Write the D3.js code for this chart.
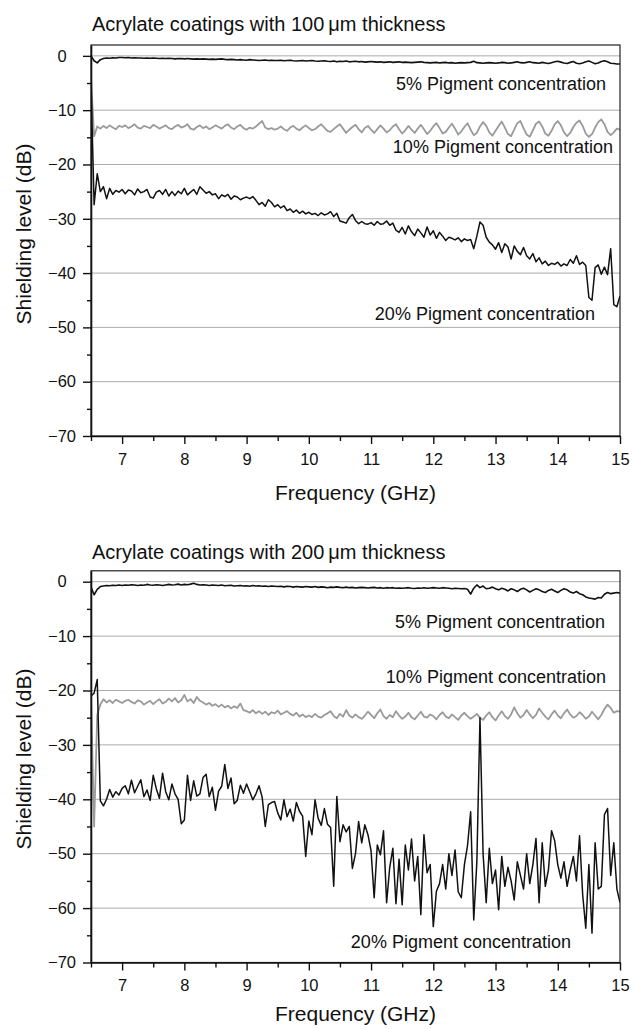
<!DOCTYPE html>
<html><head><meta charset="utf-8">
<script src="https://cdn.jsdelivr.net/npm/d3@7"></script>
<style>body{margin:0;background:#fff} text{font-family:"Liberation Sans",Arial,Helvetica,sans-serif;fill:#111}</style>
</head><body><svg id="c" width="632" height="1029"></svg>
<script>
// ---------- data ----------
const freqStart = 6.5, freqStep = 0.05;   // GHz sampling of the measured curves
const xTicks = [7, 8, 9, 10, 11, 12, 13, 14, 15];
const xMinorTicks = [6.5, 7.5, 8.5, 9.5, 10.5, 11.5, 12.5, 13.5, 14.5];
const yTicks = [0, -10, -20, -30, -40, -50, -60, -70];
const yMinorTicks = [-5, -15, -25, -35, -45, -55, -65];
const gridValues = [0, -10, -20, -30, -40, -50, -60];
const seriesLabels = ["5% Pigment concentration", "10% Pigment concentration", "20% Pigment concentration"];
const panelTitles = ["Acrylate coatings with 100\u2009\u03bcm thickness", "Acrylate coatings with 200\u2009\u03bcm thickness"];
const xTitle = "Frequency (GHz)";
const yTitle = "Shielding level (dB)";

// 100 um panel
const top5 = [
 0,-0.9,-1.3,-0.7,-0.5,-0.4,-0.45,-0.35,-0.4,-0.3,
 -0.3,-0.35,-0.3,-0.4,-0.35,-0.4,-0.4,-0.45,-0.4,-0.45,
 -0.4,-0.45,-0.5,-0.45,-0.5,-0.45,-0.5,-0.55,-0.5,-0.5,
 -0.55,-0.5,-0.55,-0.6,-0.55,-0.6,-0.55,-0.6,-0.65,-0.6,
 -0.65,-0.6,-0.55,-0.65,-0.7,-0.65,-0.7,-0.75,-0.7,-0.75,
 -0.8,-0.7,-0.75,-0.8,-0.85,-0.8,-0.75,-0.85,-0.8,-0.85,
 -0.85,-0.8,-0.9,-0.85,-0.8,-0.9,-0.95,-0.9,-0.85,-0.95,
 -0.9,-0.85,-0.95,-1.0,-0.95,-0.9,-1.0,-1.05,-0.95,-1.1,
 -1.0,-1.05,-0.95,-1.1,-1.05,-1.0,-1.1,-1.05,-1.15,-1.1,
 -1.05,-1.1,-1.15,-1.1,-1.2,-1.15,-1.1,-1.2,-1.15,-1.1,
 -1.2,-1.15,-1.2,-1.25,-1.2,-1.15,-1.1,-1.2,-1.25,-1.3,
 -1.25,-1.2,-1.3,-1.25,-1.2,-1.3,-1.25,-1.35,-1.3,-1.25,
 -1.3,-1.25,-1.2,-1.0,-1.25,-1.3,-1.35,-1.3,-1.25,-1.3,
 -1.35,-1.3,-1.2,-1.25,-1.35,-1.3,-1.2,-1.1,-1.25,-1.3,
 -1.2,-1.1,-1.25,-1.3,-1.35,-1.2,-1.3,-1.4,-1.25,-1.1,
 -1.0,-1.15,-1.3,-1.4,-1.2,-1.05,-1.35,-1.45,-1.3,-1.1,
 -0.95,-1.2,-1.45,-1.3,-1.05,-0.9,-1.1,-1.35,-1.4,-1.5,
 -1.5];
const top10 = [
 -4,-14.8,-13,-13.4,-12.9,-13.3,-12.8,-13.2,-13.5,-12.9,
 -13.1,-12.8,-13.3,-13.0,-12.6,-13.2,-13.4,-12.9,-13.1,-13.3,
 -12.7,-13.0,-13.4,-13.1,-12.8,-13.3,-13.5,-13.0,-12.7,-13.2,
 -13.0,-12.6,-13.4,-13.6,-13.1,-12.8,-13.3,-13.0,-13.5,-13.2,
 -12.8,-13.1,-13.4,-12.9,-12.6,-13.2,-13.5,-13.0,-12.7,-13.3,
 -13.6,-13.2,-13.4,-13.0,-12.5,-12.0,-13.2,-13.5,-13.3,-13.6,
 -13.4,-13.0,-13.5,-13.8,-13.2,-12.9,-13.4,-13.7,-13.2,-12.8,
 -13.3,-13.7,-13.5,-13.0,-12.6,-13.2,-13.8,-14.0,-13.5,-13.0,
 -12.6,-13.4,-14.2,-13.6,-13.1,-12.7,-13.5,-14.1,-13.3,-12.9,
 -13.6,-14.2,-13.5,-12.8,-13.4,-14.1,-13.7,-13.0,-12.6,-13.5,
 -14.3,-13.7,-12.9,-13.6,-14.2,-13.4,-12.7,-13.5,-14.4,-13.8,
 -13.0,-12.4,-13.3,-14.3,-14.0,-13.2,-12.5,-13.4,-14.5,-13.9,
 -13.1,-12.4,-13.6,-14.6,-14.2,-13.0,-12.2,-12.9,-14.1,-14.7,
 -13.8,-12.9,-12.1,-13.2,-14.4,-14.8,-13.6,-12.4,-12.0,-13.3,
 -14.5,-14.9,-13.7,-12.5,-12.1,-13.0,-14.3,-14.7,-13.8,-12.6,
 -12.0,-12.8,-14.1,-14.8,-14.2,-13.1,-12.3,-11.9,-12.9,-14.3,
 -14.9,-14.4,-13.2,-12.2,-11.7,-12.6,-14.0,-14.6,-14.1,-13.4,
 -13.6];
const top20 = [
 -5,-27.4,-21.7,-25.0,-24.1,-26.3,-24.4,-25.5,-24.8,-25.1,
 -24.6,-25.4,-24.7,-24.9,-25.6,-24.5,-25.2,-25.0,-24.6,-26.0,
 -26.2,-25.1,-24.8,-25.5,-24.6,-25.8,-25.0,-25.7,-24.9,-25.4,
 -24.4,-25.6,-25.1,-24.6,-25.5,-24.1,-24.7,-25.3,-25.0,-25.6,
 -25.4,-26.3,-25.6,-25.9,-25.5,-26.4,-25.8,-26.0,-26.5,-26.2,
 -26.0,-26.3,-25.9,-26.6,-27.4,-27.0,-27.7,-26.5,-27.0,-27.8,
 -27.4,-28.0,-27.6,-28.5,-28.2,-28.8,-28.4,-29.0,-28.6,-29.1,
 -28.8,-29.2,-29.0,-29.4,-28.9,-29.3,-29.1,-28.7,-29.6,-29.0,
 -30.4,-30.6,-30.8,-29.8,-29.2,-30.3,-30.9,-30.5,-30.9,-31.0,
 -30.7,-31.2,-30.5,-31.0,-30.9,-30.4,-31.2,-30.8,-32.1,-32.5,
 -31.6,-32.8,-31.3,-32.4,-33.1,-31.9,-32.6,-33.4,-31.5,-33.0,
 -32.2,-33.6,-32.5,-33.2,-34.0,-33.4,-33.6,-33.9,-33.5,-34.2,
 -33.7,-34.0,-33.8,-35.5,-33.2,-30.6,-31.2,-33.4,-34.3,-34.8,
 -35.6,-34.4,-36.2,-34.6,-35.2,-37.4,-35.0,-36.0,-36.6,-35.3,
 -36.8,-37.4,-36.4,-37.9,-37.2,-38.3,-37.8,-38.6,-38.2,-38.4,
 -38.0,-38.7,-38.3,-38.6,-37.5,-38.2,-36.8,-38.4,-38.0,-38.6,
 -44.5,-45.0,-39.0,-38.5,-40.2,-38.9,-40.3,-35.5,-45.8,-46.2,
 -44.2];

// 200 um panel
const bot5 = [
 -1.0,-2.4,-1.4,-0.9,-0.8,-0.7,-0.75,-0.65,-0.7,-0.6,
 -0.7,-0.6,-0.65,-0.55,-0.6,-0.7,-0.6,-0.65,-0.5,-0.6,
 -0.65,-0.55,-0.6,-0.7,-0.6,-0.5,-0.6,-0.55,-0.45,-0.6,
 -0.5,-0.55,-0.45,-0.3,-0.5,-0.6,-0.55,-0.6,-0.7,-0.6,
 -0.65,-0.7,-0.6,-0.75,-0.7,-0.65,-0.8,-0.75,-0.7,-0.8,
 -0.75,-0.85,-0.7,-0.8,-0.75,-0.85,-0.8,-0.9,-0.8,-0.85,
 -0.9,-0.85,-0.95,-0.85,-0.9,-1.0,-0.9,-0.95,-1.0,-0.9,
 -0.95,-1.0,-0.9,-1.05,-0.95,-1.0,-1.1,-1.0,-1.05,-0.95,
 -1.05,-1.1,-1.0,-1.1,-1.05,-1.15,-1.1,-1.05,-1.1,-1.15,
 -1.1,-1.05,-1.15,-1.1,-1.2,-1.1,-1.15,-1.1,-1.2,-1.15,
 -1.2,-1.15,-1.1,-1.2,-1.25,-1.15,-1.2,-1.1,-1.2,-1.15,
 -1.1,-1.15,-1.2,-1.1,-1.15,-1.2,-1.3,-1.2,-1.25,-1.3,
 -1.25,-1.4,-2.3,-1.2,-0.6,-1.1,-0.8,-1.3,-1.2,-1.0,
 -1.3,-1.5,-1.2,-1.4,-1.7,-1.3,-1.5,-1.8,-1.4,-1.2,
 -1.5,-1.9,-1.6,-1.3,-1.5,-1.8,-2.0,-1.6,-1.4,-1.7,
 -2.0,-1.6,-1.3,-1.5,-1.9,-2.1,-1.8,-2.2,-2.4,-2.8,
 -3.0,-3.1,-3.2,-2.9,-3.0,-2.3,-2.0,-2.2,-2.1,-2.0,
 -2.1];
const bot10 = [
 -21,-45,-24.5,-22.6,-21.6,-22.2,-21.8,-22.3,-21.7,-22.0,
 -22.3,-21.9,-21.7,-22.1,-22.4,-21.8,-22.0,-22.6,-22.2,-21.9,
 -22.5,-22.0,-21.6,-22.4,-22.1,-21.5,-22.0,-21.4,-22.2,-21.8,
 -20.8,-22.0,-21.6,-22.3,-21.2,-21.9,-22.2,-22.6,-22.3,-22.8,
 -22.5,-23.0,-22.6,-23.1,-22.8,-23.3,-22.9,-23.2,-22.4,-23.6,
 -23.8,-24.1,-23.6,-24.2,-23.8,-24.3,-23.9,-24.5,-24.0,-24.2,
 -23.7,-24.4,-24.1,-23.8,-24.3,-24.6,-24.1,-24.8,-24.4,-24.9,
 -24.6,-24.9,-24.3,-24.8,-25.0,-24.5,-24.2,-23.8,-24.7,-25.1,
 -24.3,-24.8,-23.6,-24.6,-25.0,-24.4,-24.9,-25.2,-24.6,-23.9,
 -24.5,-25.1,-24.2,-23.5,-24.7,-25.2,-24.5,-24.9,-23.8,-24.6,
 -25.2,-24.8,-24.1,-24.9,-25.3,-24.6,-23.9,-24.8,-25.0,-24.4,
 -24.7,-25.3,-24.5,-24.0,-24.8,-25.1,-24.4,-24.9,-25.4,-24.6,
 -24.1,-24.7,-25.2,-24.8,-24.3,-25.0,-25.4,-24.6,-24.0,-24.9,
 -25.5,-24.6,-23.8,-24.7,-25.2,-24.4,-23.1,-24.2,-25.0,-24.5,
 -23.6,-24.4,-25.1,-24.5,-23.3,-24.1,-24.8,-25.3,-24.4,-23.7,
 -24.6,-25.1,-24.2,-23.5,-24.4,-25.0,-24.7,-24.0,-24.5,-25.2,
 -24.8,-23.9,-24.6,-25.3,-24.5,-23.4,-22.6,-23.2,-24.1,-23.8,
 -23.9];
const bot20 = [
 -21,-20.5,-18,-40.3,-41.2,-40.0,-38.2,-39.6,-38.6,-39.2,
 -38.0,-37.5,-39.0,-36.5,-38.8,-37.6,-36.4,-39.5,-38.3,-40.2,
 -35.6,-38.1,-39.8,-35.2,-38.6,-40.1,-37.2,-39.0,-40.0,-44.5,
 -43.8,-35.6,-40.2,-36.6,-39.4,-39.0,-36.0,-35.4,-39.5,-37.8,
 -42.0,-38.5,-37.6,-33.6,-38.0,-36.1,-40.8,-40.2,-37.4,-38.9,
 -37.2,-38.6,-40.1,-39.0,-37.5,-39.6,-45.0,-41.0,-40.6,-40.4,
 -42.5,-43.8,-40.1,-43.2,-41.8,-44.0,-40.6,-42.2,-43.1,-50.5,
 -44.0,-46.5,-40.1,-43.5,-44.8,-41.7,-44.6,-45.2,-56.0,-39.5,
 -47.8,-44.7,-46.0,-45.0,-52.7,-50.0,-44.1,-48.0,-44.7,-46.5,
 -49.5,-58.1,-48.4,-50.2,-45.8,-59.0,-52.5,-49.0,-59.2,-51.0,
 -59.4,-48.4,-53.0,-47.3,-55.0,-50.5,-61.2,-46.5,-53.5,-52.0,
 -63.4,-56.9,-55.5,-52.0,-56.5,-50.0,-54.0,-49.3,-57.0,-58.1,
 -52.0,-48.5,-42.3,-62.2,-51.5,-25.0,-50.0,-59.0,-49.0,-55.5,
 -53.0,-60.3,-50.5,-56.0,-52.5,-55.0,-58.5,-51.5,-54.0,-56.5,
 -50.0,-55.5,-52.0,-47.2,-59.0,-48.0,-56.0,-53.0,-45.8,-47.6,
 -52.0,-54.5,-51.5,-56.0,-53.0,-50.5,-55.0,-46.7,-57.5,-63.7,
 -52.0,-64.6,-48.0,-56.5,-56.0,-42.8,-41.7,-54.0,-48.0,-56.5,
 -59.0];

// ---------- layout ----------
const svg = d3.select("#c");
const panels = [
  { title: panelTitles[0], series: [top5, top10, top20], bottom: 436, top: 45, titleY: 31,
    labels: [{x: 606, y: 89.5}, {x: 613, y: 153}, {x: 595, y: 319.5}], yTitleY: 234, xTitleY: 500 },
  { title: panelTitles[1], series: [bot5, bot10, bot20], bottom: 962.5, top: 570.8, titleY: 559,
    labels: [{x: 605, y: 628}, {x: 606, y: 683}, {x: 571, y: 948}], yTitleY: 759, xTitleY: 1021 }
];
const colors = ["#111", "#9a9a9a", "#111"];
const widths = [1.6, 1.8, 1.5];
const L = 91, R = 620;
const x = d3.scaleLinear().domain([6.5, 15]).range([L, R]);

panels.forEach((p, pi) => {
  const y = d3.scaleLinear().domain([-70, 2]).range([p.bottom, p.top]);
  const g = svg.append("g");
  // grid
  g.selectAll("line.grid").data(gridValues).enter().append("line")
    .attr("x1", L).attr("x2", R).attr("y1", d => y(d)).attr("y2", d => y(d))
    .attr("stroke", "#ababab").attr("stroke-width", 1);
  // clip
  const cid = "clip" + pi;
  svg.append("clipPath").attr("id", cid).append("rect")
    .attr("x", L).attr("y", p.top).attr("width", R - L).attr("height", p.bottom - p.top);
  const line = d3.line().x((d, i) => x(freqStart + i * freqStep)).y(d => y(d));
  p.series.forEach((s, si) => {
    g.append("path").datum(s).attr("d", line).attr("fill", "none")
      .attr("stroke", colors[si]).attr("stroke-width", widths[si])
      .attr("stroke-linejoin", "round").attr("clip-path", `url(#${cid})`);
  });
  // frame
  g.append("rect").attr("x", L).attr("y", p.top).attr("width", R - L).attr("height", p.bottom - p.top)
    .attr("fill", "none").attr("stroke", "#222").attr("stroke-width", 1.2);
  // x axis
  const xa = g.append("g").attr("transform", `translate(0,${p.bottom})`)
    .call(d3.axisBottom(x).tickValues(xTicks).tickSize(8).tickSizeOuter(0).tickPadding(9).tickFormat(d3.format("d")));
  xa.select(".domain").attr("stroke", "#111").attr("stroke-width", 1.6);
  xa.selectAll(".tick line").attr("stroke", "#111").attr("stroke-width", 1.4);
  xa.selectAll("text").attr("font-size", 16.5).attr("fill", "#111")
    .style("font-family", '"Liberation Sans",Arial,sans-serif');
  g.append("g").attr("transform", `translate(0,${p.bottom})`)
    .call(d3.axisBottom(x).tickValues(xMinorTicks).tickSize(5).tickFormat(""))
    .call(a => a.select(".domain").remove())
    .selectAll("line").attr("stroke", "#111").attr("stroke-width", 1.4);
  // y axis
  const ya = g.append("g").attr("transform", `translate(${L},0)`)
    .call(d3.axisLeft(y).tickValues(yTicks).tickSize(8).tickSizeOuter(0).tickPadding(6).tickFormat(d3.format("d")));
  ya.select(".domain").attr("stroke", "#111").attr("stroke-width", 1.6);
  ya.selectAll(".tick line").attr("stroke", "#111").attr("stroke-width", 1.4);
  ya.selectAll("text").attr("font-size", 16.5).attr("fill", "#111").attr("text-anchor", "middle").attr("x", -29)
    .style("font-family", '"Liberation Sans",Arial,sans-serif');
  g.append("g").attr("transform", `translate(${L},0)`)
    .call(d3.axisLeft(y).tickValues(yMinorTicks).tickSize(4).tickFormat(""))
    .call(a => a.select(".domain").remove())
    .selectAll("line").attr("stroke", "#111").attr("stroke-width", 1.4);
  // titles
  g.append("text").attr("x", L + 1).attr("y", p.titleY).attr("font-size", 20).text(p.title);
  g.append("text").attr("x", (L + R) / 2).attr("y", p.xTitleY).attr("text-anchor", "middle")
    .attr("font-size", 21).text(xTitle);
  g.append("text").attr("transform", `translate(31,${p.yTitleY}) rotate(-90)`).attr("text-anchor", "middle")
    .attr("font-size", 21).text(yTitle);
  // series annotations
  p.labels.forEach((lb, li) => {
    g.append("text").attr("x", lb.x).attr("y", lb.y).attr("text-anchor", "end")
      .attr("font-size", 18).text(seriesLabels[li]);
  });
});
</script></body></html>
